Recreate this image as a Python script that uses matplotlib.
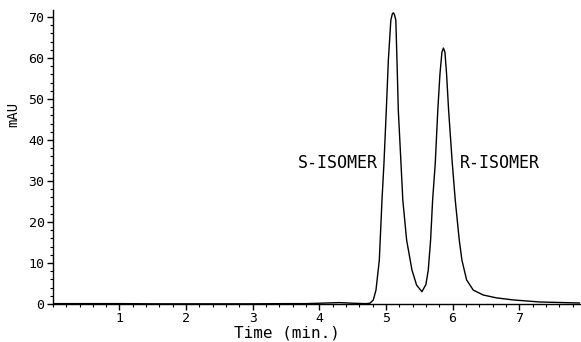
"""
Chiral HPLC chromatogram: S- and R-isomer peaks.
"""

import matplotlib
matplotlib.use("Agg")
import matplotlib.pyplot as plt
from matplotlib.ticker import MultipleLocator

# trace: retention time (min) and absorbance (mAU)
time_min = [0.0, 0.5, 1.0, 1.5, 2.0, 2.5, 3.0, 3.5, 3.8, 4.1, 4.3, 4.5, 4.7,
            4.76, 4.81, 4.85, 4.90, 4.94, 4.97, 5.005, 5.036, 5.073, 5.095, 5.11,
            5.126, 5.148, 5.165, 5.185, 5.225, 5.253, 5.31, 5.39, 5.46, 5.54,
            5.60, 5.635, 5.67, 5.70, 5.74, 5.778, 5.81, 5.84, 5.862,
            5.885, 5.91, 5.94, 5.995, 6.04, 6.10, 6.14, 6.21, 6.31, 6.46,
            6.66, 6.91, 7.31, 7.91]
absorb_mau = [0.1, 0.1, 0.1, 0.05, 0.05, 0.05, 0.05, 0.1, 0.1, 0.25, 0.35, 0.2, 0.1,
              0.2, 1.0, 3.4, 10.7, 25.3, 34.4, 47.3, 59.5, 69.2, 70.7, 71.0,
              70.6, 69.2, 59.5, 47.3, 34.4, 25.3, 15.6, 8.3, 4.6, 3.0,
              4.8, 8.3, 15.6, 25.3, 34.4, 47.3, 56.0, 61.4, 62.4,
              61.4, 56.0, 47.3, 34.4, 25.3, 15.6, 10.7, 5.9, 3.4, 2.2,
              1.5, 1.0, 0.5, 0.25]

peak_names = ["S-ISOMER", "R-ISOMER"]
label_x = [4.88, 6.11]
label_y = [34.4, 34.4]

x_ticks = [1, 2, 3, 4, 5, 6, 7]
y_ticks = [0, 10, 20, 30, 40, 50, 60, 70]


def main() -> None:
    plt.rcParams["font.family"] = ["DejaVu Sans Mono"]
    fig = plt.figure(figsize=(5.81, 3.42), dpi=100)
    ax = fig.add_axes([0.091, 0.111, 0.907, 0.860])

    ax.plot(time_min, absorb_mau, color="black", lw=1.0)

    ax.text(label_x[0], label_y[0], peak_names[0], ha="right", va="center", fontsize=12)
    ax.text(label_x[1], label_y[1], peak_names[1], ha="left", va="center", fontsize=12)

    ax.set_xlim(0, 7.91)
    ax.set_ylim(0, 71.7)
    ax.set_xticks(x_ticks)
    ax.set_yticks(y_ticks)
    ax.xaxis.set_minor_locator(MultipleLocator(0.2))
    ax.yaxis.set_minor_locator(MultipleLocator(2))

    ax.tick_params(axis="both", which="major", direction="out", length=4, width=1,
                   labelsize=9.5, pad=2)
    ax.tick_params(axis="both", which="minor", direction="out", length=2, width=0.8)

    for side in ("top", "right"):
        ax.spines[side].set_visible(False)
    for side in ("left", "bottom"):
        ax.spines[side].set_linewidth(1.0)

    ax.set_xlabel("Time (min.)", fontsize=11.5)
    ax.set_ylabel("mAU", fontsize=10)
    ax.xaxis.set_label_coords(0.444, -0.074)
    ax.yaxis.set_label_coords(-0.062, 0.646)

    fig.savefig("out.png", dpi=100)


if __name__ == "__main__":
    main()
